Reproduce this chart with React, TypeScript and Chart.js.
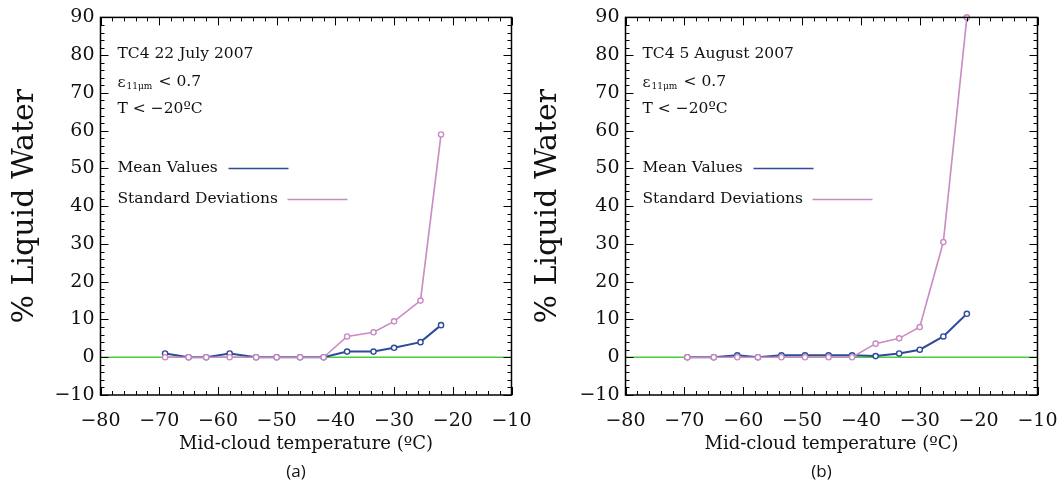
import React, { useEffect, useRef } from "react";
import { Chart, registerables } from "chart.js";

Chart.register(...registerables);

// ---- data ----
const xTickLabels = [-80, -70, -60, -50, -40, -30, -20, -10];
const yTickLabels = [-10, 0, 10, 20, 30, 40, 50, 60, 70, 80, 90];

const tempsA = [-69, -65, -62, -58, -53.5, -50, -46, -42, -38, -33.5, -30, -25.5, -22];
const meanA = [1.0, 0, 0, 1.0, 0, 0, 0, 0, 1.5, 1.5, 2.5, 4.0, 8.5];
const sdA = [0, 0, 0, 0, 0, 0, 0, 0, 5.5, 6.6, 9.5, 15, 59];

const tempsB = [-69.5, -65, -61, -57.5, -53.5, -49.5, -45.5, -41.5, -37.5, -33.5, -30, -26, -22];
const meanB = [0, 0, 0.5, 0, 0.5, 0.5, 0.5, 0.5, 0.3, 1.0, 2.0, 5.5, 11.5];
const sdB = [0, 0, 0, 0, 0, 0, 0, 0, 3.6, 5.0, 8.0, 30.5, 90];

const titleA = "TC4 22 July 2007";
const titleB = "TC4 5 August 2007";
const legendLabels = ["Mean Values", "Standard Deviations"];
const yTitle = "% Liquid Water";
const xTitle = "Mid-cloud temperature (ºC)";

const BLUE = "#2f4a98";
const PINK = "#c98bc3";
const GREEN = "#4ccc3c";
const SERIF = "'DejaVu Serif', serif";

const fmt = (v: number | string) => String(v).replace("-", "\u2212");

function makeFramePlugin(title: string) {
  return {
    id: "frameAndNotes",
    afterDatasetsDraw(chart: any) {
      const ctx = chart.ctx as CanvasRenderingContext2D;
      const { left, right, top, bottom } = chart.chartArea;
      const xs = chart.scales.x;
      const ys = chart.scales.y;
      ctx.save();
      ctx.strokeStyle = "#000";
      ctx.lineWidth = 1;
      ctx.beginPath();
      for (let v = xs.min; v <= xs.max + 0.01; v += 2) {
        const px = Math.round(xs.getPixelForValue(v)) + 0.5;
        const L = Math.abs(v % 10) < 0.01 ? 8 : 4;
        ctx.moveTo(px, bottom);
        ctx.lineTo(px, bottom - L);
        ctx.moveTo(px, top);
        ctx.lineTo(px, top + L);
      }
      for (let v = ys.min; v <= ys.max + 0.01; v += 2) {
        const py = Math.round(ys.getPixelForValue(v)) + 0.5;
        const L = Math.abs(v % 10) < 0.01 ? 8 : 4;
        ctx.moveTo(left, py);
        ctx.lineTo(left + L, py);
        ctx.moveTo(right, py);
        ctx.lineTo(right - L, py);
      }
      ctx.stroke();
      ctx.lineWidth = 1.5;
      ctx.strokeRect(left, top, right - left, bottom - top);

      // annotations
      ctx.fillStyle = "#111";
      ctx.textBaseline = "middle";
      ctx.textAlign = "left";
      const x0 = left + 17;
      ctx.font = `15.5px ${SERIF}`;
      ctx.fillText(title, x0, top + 37);
      // epsilon line
      ctx.fillText("\u03b5", x0, top + 66);
      const we = ctx.measureText("\u03b5").width;
      ctx.font = `9px ${SERIF}`;
      ctx.fillText("11\u03bcm", x0 + we + 1, top + 69);
      ctx.font = `15.5px ${SERIF}`;
      ctx.fillText("< 0.7", x0 + 41, top + 65);
      ctx.fillText("T < \u221220ºC", x0, top + 92);
      ctx.fillText(legendLabels[0], x0, top + 151);
      ctx.fillText(legendLabels[1], x0, top + 182);
      ctx.lineWidth = 1.5;
      ctx.strokeStyle = BLUE;
      ctx.beginPath();
      ctx.moveTo(left + 128, top + 151);
      ctx.lineTo(left + 188, top + 151);
      ctx.stroke();
      ctx.strokeStyle = PINK;
      ctx.beginPath();
      ctx.moveTo(left + 187, top + 182);
      ctx.lineTo(left + 247, top + 182);
      ctx.stroke();
      ctx.restore();
    },
  };
}

type PanelProps = {
  temps: number[];
  mean: number[];
  sd: number[];
  title: string;
  caption: string;
  offsetLeft: number;
  width: number;
  plotLeft: number;
  plotRight: number;
  yTitlePad: number;
};

function Panel(p: PanelProps) {
  const ref = useRef<HTMLCanvasElement | null>(null);
  useEffect(() => {
    if (!ref.current) return;
    const chart = new Chart(ref.current, {
      type: "line",
      data: {
        datasets: [
          {
            label: legendLabels[1],
            data: p.temps.map((t, i) => ({ x: t, y: p.sd[i] })),
            borderColor: PINK,
            backgroundColor: "#fff",
            borderWidth: 1.6,
            pointRadius: 2.6,
            pointBorderWidth: 1.4,
            pointBorderColor: PINK,
            clip: false as any,
          },
          {
            label: legendLabels[0],
            data: p.temps.map((t, i) => ({ x: t, y: p.mean[i] })),
            borderColor: BLUE,
            backgroundColor: "#fff",
            borderWidth: 2,
            pointRadius: 2.6,
            pointBorderWidth: 1.4,
            pointBorderColor: BLUE,
            clip: false as any,
          },
          {
            label: "zero",
            data: [
              { x: xTickLabels[0], y: 0 },
              { x: xTickLabels[xTickLabels.length - 1], y: 0 },
            ],
            borderColor: GREEN,
            borderWidth: 1.3,
            pointRadius: 0,
          },
        ],
      },
      options: {
        animation: false,
        responsive: true,
        maintainAspectRatio: false,
        layout: {
          padding: { top: 17, left: 0, bottom: 0, right: p.width - p.plotRight },
        },
        plugins: { legend: { display: false }, tooltip: { enabled: false } },
        scales: {
          x: {
            type: "linear",
            min: xTickLabels[0],
            max: xTickLabels[xTickLabels.length - 1],
            afterFit: (s: any) => {
              s.height = 483 - 395;
            },
            afterBuildTicks: (s: any) => {
              s.ticks = xTickLabels.map((v) => ({ value: v }));
            },
            ticks: {
              callback: (v: any) => fmt(v),
              font: { family: SERIF, size: 19 },
              color: "#111",
              padding: 15,
              maxRotation: 0,
            },
            grid: { display: false, drawTicks: false },
            border: { display: false },
            title: {
              display: true,
              text: xTitle,
              font: { family: SERIF, size: 18, lineHeight: 1 },
              color: "#111",
              padding: { top: 0, bottom: 30 },
            },
          },
          y: {
            type: "linear",
            min: yTickLabels[0],
            max: yTickLabels[yTickLabels.length - 1],
            afterFit: (s: any) => {
              s.width = p.plotLeft;
            },
            afterBuildTicks: (s: any) => {
              s.ticks = yTickLabels.map((v) => ({ value: v }));
            },
            ticks: {
              callback: (v: any) => fmt(v),
              font: { family: SERIF, size: 19 },
              color: "#111",
              padding: 6,
            },
            grid: { display: false, drawTicks: false },
            border: { display: false },
            title: {
              display: true,
              text: yTitle,
              font: { family: SERIF, size: 30, lineHeight: 1 },
              color: "#111",
              padding: { top: p.yTitlePad, bottom: 0 },
            },
          },
        },
      },
      plugins: [makeFramePlugin(p.title)],
    } as any);
    return () => chart.destroy();
  }, []);

  const captionX = (p.plotLeft + p.plotRight) / 2 - 10;
  return (
    <div
      style={{
        position: "absolute",
        left: p.offsetLeft,
        top: 0,
        width: p.width,
        height: 483,
      }}
    >
      <canvas ref={ref} />
      <div
        style={{
          position: "absolute",
          left: captionX - 30,
          width: 60,
          top: 459,
          textAlign: "center",
          fontFamily: "'Open Sans', sans-serif",
          fontSize: 17,
          lineHeight: "24px",
          color: "#111",
        }}
      >
        {p.caption}
      </div>
    </div>
  );
}

export default function App() {
  return (
    <div
      style={{
        position: "fixed",
        left: 0,
        top: 0,
        width: 1059,
        height: 483,
        background: "#fff",
        overflow: "hidden",
      }}
    >
      <Panel
        temps={tempsA}
        mean={meanA}
        sd={sdA}
        title={titleA}
        caption="(a)"
        offsetLeft={0}
        width={550}
        plotLeft={100.5}
        plotRight={511.5}
        yTitlePad={10}
      />
      <Panel
        temps={tempsB}
        mean={meanB}
        sd={sdB}
        title={titleB}
        caption="(b)"
        offsetLeft={505}
        width={575}
        plotLeft={120.5}
        plotRight={532.5}
        yTitlePad={28}
      />
    </div>
  );
}
